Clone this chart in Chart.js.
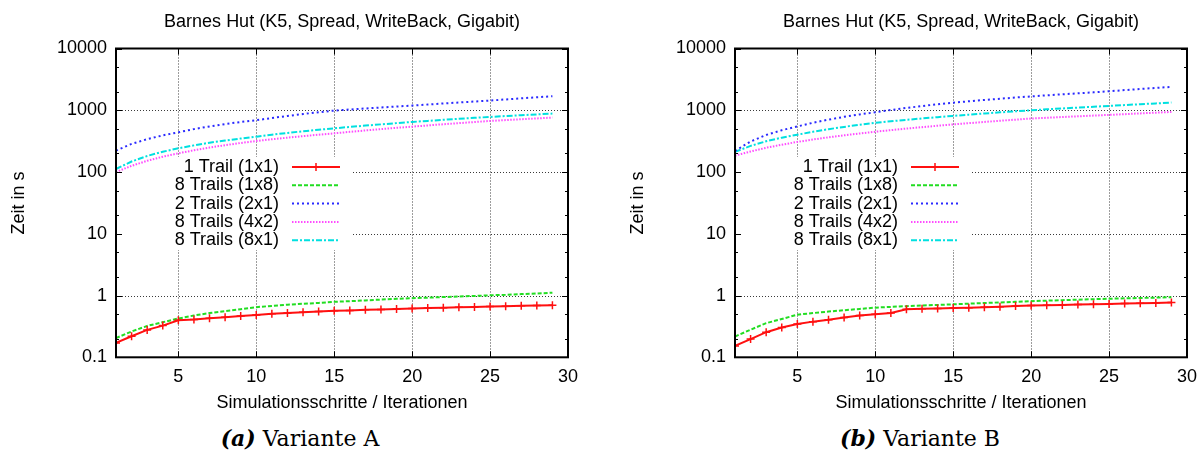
<!DOCTYPE html>
<html lang="de">
<head>
<meta charset="utf-8">
<title>Barnes Hut – Variante A und B</title>
<script src="https://cdn.jsdelivr.net/npm/chart.js@4.4.1/dist/chart.umd.min.js"></script>
<style>
  html, body { margin: 0; padding: 0; background: #fff; }
  body { position: relative; width: 1201px; height: 451px; overflow: hidden; }
  .panel { position: absolute; top: 0; }
  .caption {
    position: absolute; top: 424px; height: 28px; line-height: 28px;
    font-family: "DejaVu Serif", "Liberation Serif", serif; font-size: 22px;
    color: #000; white-space: nowrap; transform: translateX(-50%);
  }
  .caption .tag { font-weight: bold; font-style: italic; }
</style>
</head>
<body>
<canvas id="chartA" class="panel" width="684" height="420" style="left:0px"></canvas>
<canvas id="chartB" class="panel" width="684" height="420" style="left:619px"></canvas>
<div class="caption" style="left:300px"><span class="tag">(a)</span> Variante A</div>
<div class="caption" style="left:920px"><span class="tag">(b)</span> Variante B</div>
<script>
// ---- texts and ticks ----
const chartTitle = 'Barnes Hut (K5, Spread, WriteBack, Gigabit)';
const xAxisTitle = 'Simulationsschritte / Iterationen';
const yAxisTitle = 'Zeit in s';
const seriesNames = ['1 Trail (1x1)', '8 Trails (1x8)', '2 Trails (2x1)', '8 Trails (4x2)', '8 Trails (8x1)'];

const steps = [1, 2, 3, 4, 5, 6, 7, 8, 9, 10, 11, 12, 13, 14, 15, 16, 17, 18, 19, 20, 21, 22, 23, 24, 25, 26, 27, 28, 29];
const xTicks = [5, 10, 15, 20, 25, 30];
const xTickLabels = ['5', '10', '15', '20', '25', '30'];
const yTicks = [0.1, 1, 10, 100, 1000, 10000];
const yTickLabels = ['0.1', '1', '10', '100', '1000', '10000'];
const yMinorTicks = [0.2, 0.5, 2, 5, 20, 50, 200, 500, 2000, 5000];

// ---- Variante A (seconds per step count) ----
const trail1x1A = [0.171, 0.219, 0.278, 0.326, 0.398, 0.41, 0.428, 0.445, 0.465, 0.485, 0.505, 0.52, 0.537, 0.55, 0.565, 0.575, 0.588, 0.597, 0.606, 0.618, 0.627, 0.636, 0.645, 0.653, 0.665, 0.673, 0.681, 0.689, 0.697];
const trails1x8A = [0.205, 0.262, 0.322, 0.37, 0.425, 0.475, 0.52, 0.56, 0.6, 0.648, 0.68, 0.71, 0.735, 0.76, 0.79, 0.81, 0.835, 0.86, 0.885, 0.905, 0.925, 0.945, 0.965, 0.985, 1.01, 1.03, 1.055, 1.08, 1.11];
const trails2x1A = [222, 285, 340, 392, 440, 495, 548, 598, 645, 690, 749, 809, 869, 928, 988, 1028, 1068, 1108, 1149, 1190, 1238, 1287, 1336, 1385, 1435, 1497, 1560, 1623, 1687];
const trails4x2A = [100, 126, 152, 177, 201, 225, 249, 272, 295, 318, 339, 360, 381, 402, 423, 447, 471, 495, 519, 543, 568, 594, 619, 645, 671, 693, 716, 738, 761];
const trails8x1A = [112, 148, 182, 213, 242, 270, 298, 324, 349, 374, 402, 430, 457, 484, 510, 537, 564, 591, 619, 647, 673, 700, 727, 753, 780, 806, 832, 858, 884];

// ---- Variante B ----
const trail1x1B = [0.153, 0.197, 0.255, 0.303, 0.346, 0.378, 0.407, 0.441, 0.476, 0.497, 0.523, 0.599, 0.61, 0.618, 0.626, 0.635, 0.646, 0.66, 0.675, 0.687, 0.696, 0.705, 0.714, 0.723, 0.732, 0.741, 0.751, 0.76, 0.77];
const trails1x8B = [0.217, 0.28, 0.357, 0.417, 0.49, 0.52, 0.55, 0.578, 0.607, 0.637, 0.655, 0.673, 0.69, 0.705, 0.72, 0.738, 0.756, 0.774, 0.792, 0.81, 0.826, 0.842, 0.857, 0.872, 0.888, 0.9, 0.913, 0.926, 0.94];
const trails2x1B = [220, 312, 398, 475, 547, 627, 705, 782, 857, 929, 1010, 1090, 1170, 1250, 1327, 1397, 1467, 1537, 1607, 1678, 1745, 1812, 1880, 1950, 2030, 2120, 2210, 2300, 2390];
const trails4x2B = [184, 215, 247, 277, 307, 336, 365, 393, 421, 449, 477, 505, 533, 561, 589, 618, 647, 676, 705, 735, 756, 777, 798, 820, 841, 865, 890, 914, 939];
const trails8x1B = [212, 265, 315, 360, 402, 448, 494, 538, 582, 626, 663, 700, 737, 774, 811, 849, 887, 925, 962, 1000, 1035, 1070, 1105, 1140, 1175, 1214, 1253, 1292, 1331];

// ---- look ----
const FONT = { family: '"Liberation Sans", Arial, Helvetica, sans-serif', size: 18, weight: 'normal' };
const seriesStyles = [
  { borderColor: '#ff1010', borderWidth: 2, borderDash: [], pointStyle: 'cross', pointRadius: 4, pointBorderWidth: 1.5, pointBorderColor: '#ff1010' },
  { borderColor: '#22dd22', borderWidth: 2, borderDash: [4, 2], pointRadius: 0 },
  { borderColor: '#2a2aff', borderWidth: 2, borderDash: [2, 3], pointRadius: 0 },
  { borderColor: '#ff4cff', borderWidth: 2, borderDash: [1.5, 1.5], pointRadius: 0 },
  { borderColor: '#00e0e0', borderWidth: 2, borderDash: [6, 2, 2, 2], pointRadius: 0 }
];
// key box geometry, relative to the top-left corner of the plot area
const KEY = { top: 108.5, width: 235, height: 93, firstRow: 118.5, rowStep: 18.3, textRight: 163, sampleLeft: 176, sampleRight: 224 };

// grid, key, inward tics and the frame, gnuplot style
const gnuplotDecor = {
  id: 'gnuplotDecor',
  beforeDatasetsDraw(chart) {
    const { ctx, chartArea: a, scales: { x, y } } = chart;
    ctx.save();
    ctx.strokeStyle = '#3a3a3a'; ctx.lineWidth = 1; ctx.setLineDash([1, 2]);
    ctx.beginPath();
    for (const v of xTicks) {
      if (v <= x.min || v >= x.max) continue;
      const px = Math.round(x.getPixelForValue(v)) + 0.5;
      ctx.moveTo(px, a.top); ctx.lineTo(px, a.bottom);
    }
    for (const v of yTicks) {
      if (v <= y.min || v >= y.max) continue;
      const py = Math.round(y.getPixelForValue(v)) + 0.5;
      ctx.moveTo(a.left, py); ctx.lineTo(a.right, py);
    }
    ctx.stroke();

    ctx.setLineDash([]);
    ctx.fillStyle = '#fff';
    ctx.fillRect(a.left + 1, a.top + KEY.top, KEY.width, KEY.height);
    ctx.font = `${FONT.size}px ${FONT.family}`;
    ctx.textAlign = 'right'; ctx.textBaseline = 'middle';
    chart.data.datasets.forEach((ds, i) => {
      const yy = a.top + KEY.firstRow + i * KEY.rowStep;
      ctx.fillStyle = '#000';
      ctx.fillText(ds.label, a.left + KEY.textRight, yy);
      ctx.strokeStyle = ds.borderColor; ctx.lineWidth = ds.borderWidth;
      ctx.setLineDash(ds.borderDash || []);
      ctx.beginPath();
      ctx.moveTo(a.left + KEY.sampleLeft, yy); ctx.lineTo(a.left + KEY.sampleRight, yy);
      ctx.stroke();
      if (ds.pointRadius) {
        const cx = a.left + (KEY.sampleLeft + KEY.sampleRight) / 2, r = ds.pointRadius;
        ctx.setLineDash([]); ctx.lineWidth = ds.pointBorderWidth;
        ctx.beginPath();
        ctx.moveTo(cx - r, yy); ctx.lineTo(cx + r, yy);
        ctx.moveTo(cx, yy - r); ctx.lineTo(cx, yy + r);
        ctx.stroke();
      }
    });
    ctx.restore();
  },
  afterDatasetsDraw(chart) {
    const { ctx, chartArea: a, scales: { x, y } } = chart;
    ctx.save();
    ctx.strokeStyle = '#000'; ctx.lineWidth = 1; ctx.setLineDash([]);
    ctx.beginPath();
    const yTic = (v, len) => {
      const py = Math.round(y.getPixelForValue(v)) + 0.5;
      ctx.moveTo(a.left, py); ctx.lineTo(a.left + len, py);
      ctx.moveTo(a.right, py); ctx.lineTo(a.right - len, py);
    };
    yTicks.forEach(v => yTic(v, 6));
    yMinorTicks.forEach(v => yTic(v, 3));
    xTicks.forEach(v => {
      const px = Math.round(x.getPixelForValue(v)) + 0.5;
      ctx.moveTo(px, a.bottom); ctx.lineTo(px, a.bottom - 6);
      ctx.moveTo(px, a.top); ctx.lineTo(px, a.top + 6);
    });
    ctx.stroke();
    ctx.lineWidth = 2;
    ctx.strokeRect(a.left, a.top, a.right - a.left, a.bottom - a.top);
    ctx.restore();
  }
};

function buildChart(canvasId, series) {
  const datasets = seriesNames.map((name, i) => Object.assign({
    label: name,
    data: steps.map((s, k) => ({ x: s, y: series[i][k] })),
    fill: false,
    tension: 0
  }, seriesStyles[i]));

  return new Chart(document.getElementById(canvasId), {
    type: 'line',
    data: { datasets },
    plugins: [gnuplotDecor],
    options: {
      responsive: false,
      animation: false,
      events: [],
      devicePixelRatio: 1,
      layout: { padding: { left: 0, right: 116, top: 0, bottom: 0 } },
      plugins: {
        legend: { display: false },
        tooltip: { enabled: false },
        title: {
          display: true, fullSize: false, text: chartTitle, color: '#000', font: FONT,
          padding: { top: 11.2, bottom: 15.7 }
        }
      },
      scales: {
        x: {
          type: 'linear', min: 1, max: 30,
          grid: { display: false, drawTicks: false },
          border: { display: false },
          afterBuildTicks: s => { s.ticks = xTicks.map(v => ({ value: v })); },
          afterFit: s => { s.height = 62.7; },
          ticks: {
            color: '#000', font: FONT, padding: 8.6, maxRotation: 0, autoSkip: false,
            callback: v => xTickLabels[xTicks.indexOf(v)]
          },
          title: { display: true, text: xAxisTitle, color: '#000', font: FONT, padding: { top: 0, bottom: 6.2 } }
        },
        y: {
          type: 'logarithmic', min: 0.1, max: 10000,
          grid: { display: false, drawTicks: false },
          border: { display: false },
          afterBuildTicks: s => { s.ticks = yTicks.map(v => ({ value: v })); },
          afterFit: s => { s.width = 116; },
          ticks: {
            color: '#000', font: FONT, padding: 9, autoSkip: false,
            callback: (v, i) => yTickLabels[i]
          },
          title: { display: true, text: yAxisTitle, color: '#000', font: FONT, padding: { top: 8.2, bottom: 0 } }
        }
      }
    }
  });
}

buildChart('chartA', [trail1x1A, trails1x8A, trails2x1A, trails4x2A, trails8x1A]);
buildChart('chartB', [trail1x1B, trails1x8B, trails2x1B, trails4x2B, trails8x1B]);
</script>
</body>
</html>
